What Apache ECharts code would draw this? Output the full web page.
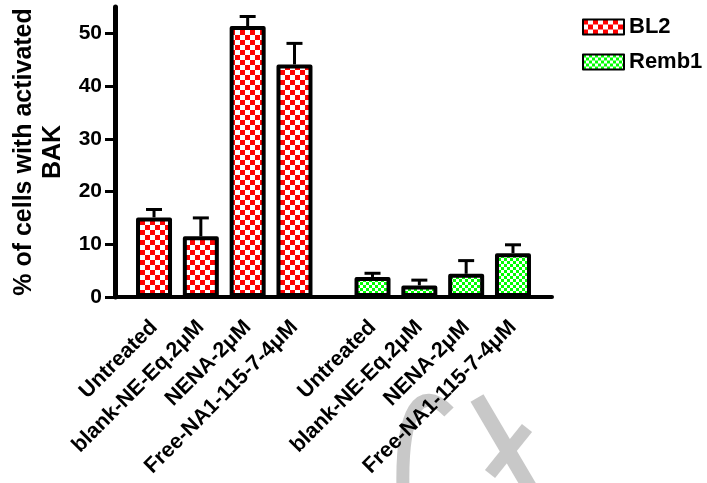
<!DOCTYPE html>
<html>
<head>
<meta charset="utf-8">
<script src="https://cdn.jsdelivr.net/npm/echarts@6/dist/echarts.min.js"></script>
<style>
  html, body { margin: 0; padding: 0; background: #fff; }
  #chart { width: 707px; height: 483px; }
</style>
</head>
<body>
<div id="chart"></div>
<script>
// data
var categories = ['Untreated', 'blank-NE-Eq.2μM', 'NENA-2μM', 'Free-NA1-115-7-4μM'];
var bl2 = [15.1, 11.5, 51.4, 44.1];
var bl2Err = [1.5, 3.5, 1.8, 4.0];
var remb1 = [3.8, 2.2, 4.4, 8.3];
var remb1Err = [0.7, 1.0, 2.5, 1.6];
var yTicks = [0, 10, 20, 30, 40, 50];

var font = '"Liberation Sans", Arial, sans-serif';

// checkerboard fill like the prism hatch
function checker(color, size) {
  var c = document.createElement('canvas');
  c.width = c.height = size * 2;
  var ctx = c.getContext('2d');
  ctx.fillStyle = '#fff';
  ctx.fillRect(0, 0, size * 2, size * 2);
  ctx.fillStyle = color;
  ctx.fillRect(0, 0, size, size);
  ctx.fillRect(size, size, size, size);
  return c;
}

// slot layout on the category axis: 3 slots per bar, wider gap between the groups
var edge = 2, step = 3, groupGap = 5;
var groups = [
  { name: 'BL2', vals: bl2, err: bl2Err, fill: checker('#ff0000', 5) },
  { name: 'Remb1', vals: remb1, err: remb1Err, fill: checker('#00ff00', 3) }
];
var nSlots = edge * 2 + (categories.length - 1) * step * 2 + groupGap + 1;
var slots = [];
for (var i = 0; i < nSlots; i++) slots.push('');

var series = [];
var start = edge;
groups.forEach(function (g, gi) {
  var data = [];
  var errData = [];
  for (var i = 0; i < nSlots; i++) data.push(null);
  categories.forEach(function (c, ci) {
    var idx = start + ci * step;
    slots[idx] = c;
    data[idx] = g.vals[ci];
    errData.push([idx, g.vals[ci], g.err[ci]]);
  });
  start += (categories.length - 1) * step + groupGap;
  series.push({
    name: g.name,
    type: 'bar',
    data: data,
    barWidth: 36,
    barGap: '-100%',
    itemStyle: {
      color: { image: g.fill, repeat: 'repeat' },
      borderColor: '#000',
      borderWidth: 4,
      borderJoin: 'round'
    },
    emphasis: { disabled: true }
  });
  series.push({
    type: 'custom',
    data: errData,
    z: 1,
    renderItem: function (params, api) {
      var x = api.value(0), m = api.value(1), e = api.value(2);
      var p0 = api.coord([x, m]);
      var p1 = api.coord([x, m + e]);
      return {
        type: 'group',
        children: [
          { type: 'line', shape: { x1: p0[0], y1: p0[1], x2: p1[0], y2: p1[1] }, style: { stroke: '#000', lineWidth: 3 } },
          { type: 'line', shape: { x1: p1[0] - 8, y1: p1[1], x2: p1[0] + 8, y2: p1[1] }, style: { stroke: '#000', lineWidth: 3 } }
        ]
      };
    }
  });
});

var myChart = echarts.init(document.getElementById('chart'));
var option = {
  backgroundColor: '#fff',
  animation: false,
  textStyle: { fontFamily: font },
  grid: { left: 115, right: 155, top: 7, bottom: 186 },
  legend: {
    data: ['BL2', 'Remb1'],
    orient: 'vertical',
    left: 582,
    top: 16,
    padding: 0,
    icon: 'rect',
    itemWidth: 41,
    itemHeight: 15,
    itemGap: 13,
    textStyle: { fontSize: 22, lineHeight: 20, fontWeight: 'bold', color: '#000', fontFamily: font }
  },
  xAxis: {
    type: 'category',
    data: slots,
    axisLine: { lineStyle: { color: '#000', width: 4 } },
    axisTick: {
      alignWithLabel: true,
      length: 9,
      lineStyle: { color: '#000', width: 3 },
      interval: function (index, value) { return value !== ''; }
    },
    axisLabel: {
      interval: function (index, value) { return value !== ''; },
      rotate: 45,
      margin: 27,
      fontSize: 21.5,
      fontWeight: 'bold',
      color: '#000',
      fontFamily: font
    },
    splitLine: { show: false }
  },
  yAxis: {
    type: 'value',
    min: 0,
    max: 55,
    interval: 10,
    name: '% of cells with activated\nBAK',
    nameLocation: 'middle',
    nameGap: 47,
    nameMoveOverlap: false,
    nameTextStyle: { fontSize: 25, fontWeight: 'bold', color: '#000', lineHeight: 29, fontFamily: font },
    axisLine: { show: true, lineStyle: { color: '#000', width: 5 } },
    axisTick: { show: true, length: 10, customValues: yTicks, lineStyle: { color: '#000', width: 3 } },
    axisLabel: { customValues: yTicks, margin: 13, fontSize: 21, fontWeight: 'bold', color: '#000', fontFamily: font },
    splitLine: { show: false }
  },
  // grey watermark stroke behind the labels
  graphic: [
    { type: 'bezierCurve', z: -10, shape: { x1: 403, y1: 490, cpx1: 401, cpy1: 410, cpx2: 420, cpy2: 382, x2: 449, y2: 412 }, style: { fill: null, stroke: '#c8c8c8', lineWidth: 13 } },
    { type: 'line', z: -10, shape: { x1: 477, y1: 398, x2: 530, y2: 488 }, style: { stroke: '#c8c8c8', lineWidth: 15 } },
    { type: 'line', z: -10, shape: { x1: 527, y1: 428, x2: 490, y2: 474 }, style: { stroke: '#c8c8c8', lineWidth: 13 } }
  ],
  series: series
};
myChart.setOption(option);
</script>
</body>
</html>
